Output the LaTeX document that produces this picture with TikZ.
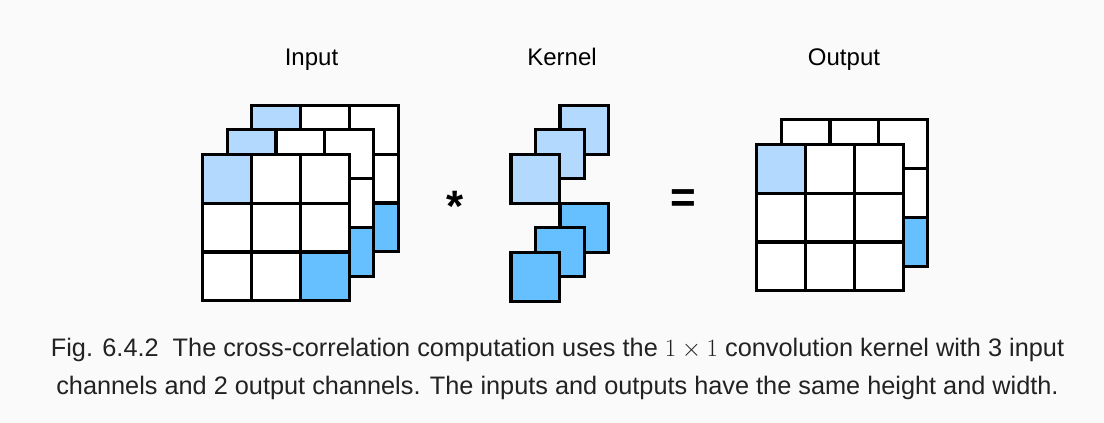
\documentclass[tikz,border=0pt]{standalone}
\usepackage{fontspec}
\setmainfont{Liberation Sans}
\definecolor{lightb}{HTML}{B3D9FF}
\definecolor{darkb}{HTML}{66BFFF}
\definecolor{bgc}{HTML}{FAFAFA}
\definecolor{captxt}{HTML}{222222}
\newcommand\gridlayer[4]{%
  \begin{scope}[shift={(#1,#2)}]
    \fill[white] (0,0) rectangle (146.4,146.4);
    \fill[#3] (0,0) rectangle (48.8,48.8);
    \fill[#4] (97.6,97.6) rectangle (146.4,146.4);
    \foreach \k in {48.8,97.6}{
      \draw[gridline] (\k,0) -- (\k,146.4);
      \draw[gridline] (0,\k) -- (146.4,\k);
    }
    \draw[gridline] (0,0) rectangle (146.4,146.4);
  \end{scope}}
\newcommand\kernsq[3]{\draw[gridline,fill=#3] (#1,#2) rectangle ++(48.8,48.8);}
\begin{document}
\begin{tikzpicture}[x=1pt,y=-1pt,
  gridline/.style={draw=black,line width=3.2pt},
  lbl/.style={anchor=base,inner sep=0pt,font=\fontsize{24}{28}\selectfont},
  captext/.style={anchor=base,inner sep=0pt,text=captxt,font=\fontsize{25.3}{30}\selectfont},
  op/.style={inner sep=0pt,font=\bfseries\fontsize{44}{48}\selectfont}]
\fill[bgc] (0,0) rectangle (1104,423);
\useasboundingbox (0,0) rectangle (1104,423);
% Input stack
\gridlayer{251.7}{105.3}{lightb}{darkb}
\gridlayer{227.2}{129.8}{lightb}{darkb}
\gridlayer{202.7}{154.3}{lightb}{darkb}
% Kernel
\kernsq{560}{105.3}{lightb}
\kernsq{535.5}{129.8}{lightb}
\kernsq{511}{154.3}{lightb}
\kernsq{560}{203.3}{darkb}
\kernsq{535.5}{227.8}{darkb}
\kernsq{511}{252.3}{darkb}
% Output stack
\gridlayer{781.2}{119.8}{white}{darkb}
\gridlayer{756.7}{144.3}{lightb}{white}
% labels
\node[lbl] (linput) at (311.5,65) {Input};
\node[lbl] (lkernel) at (562,65) {Kernel};
\node[lbl] (loutput) at (844,65) {Output};
\node[op] (star) at (455.5,206) {*};
\node[op] (eq) at (683.7,201) {=};
\node[captext] (cap1) at (557.5,356.7) {Fig. 6.4.2\ \ The cross-correlation computation uses the $1\times 1$ convolution kernel with 3 input};
\node[captext] (cap2) at (557.5,394.5) {channels and 2 output channels. The inputs and outputs have the same height and width.};
\end{tikzpicture}
\end{document}
